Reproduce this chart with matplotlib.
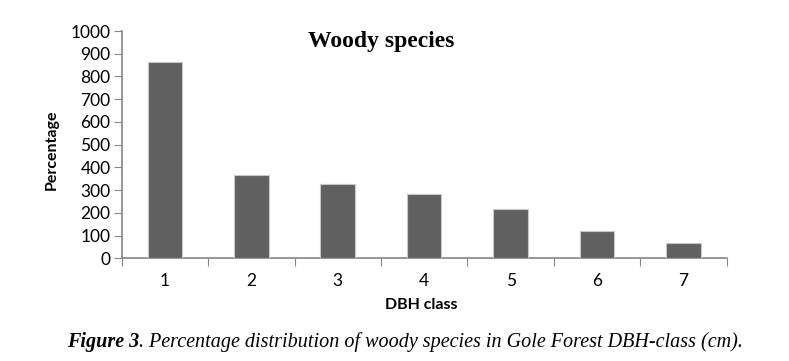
import matplotlib
matplotlib.use("Agg")
from matplotlib import pyplot as plt

dbh_class = ['1', '2', '3', '4', '5', '6', '7']
percentage = [862, 366, 326, 282, 218, 119, 66]
y_ticks = [0, 100, 200, 300, 400, 500, 600, 700, 800, 900, 1000]

fig = plt.figure(figsize=(7.89, 3.61), dpi=100)
ax = fig.add_axes([121.7 / 789, 1 - 258.3 / 361, (726.7 - 121.7) / 789, (258.3 - 31) / 361])

x = range(len(dbh_class))
ax.bar(x, percentage, width=0.4, color='#606060', edgecolor='#c8c8c8', linewidth=0.8, zorder=3)

ax.set_xlim(-0.5, len(dbh_class) - 0.5)
ax.set_ylim(0, 1000)
ax.set_yticks(y_ticks)
ax.set_xticks([i - 0.5 for i in range(len(dbh_class) + 1)])
ax.set_xticklabels([])
ax.tick_params(axis='x', length=6, color='#868686', direction='out')
ax.tick_params(axis='y', length=6, color='#868686', direction='out', labelsize=12.5, pad=2)
for lbl in ax.get_yticklabels():
    lbl.set_family('Lato')
for i, name in enumerate(dbh_class):
    ax.text(i, -102, name, ha='center', va='center', fontsize=12.5, family='Lato')

for side in ['top', 'right']:
    ax.spines[side].set_visible(False)
for side in ['left', 'bottom']:
    ax.spines[side].set_color('#868686')
    ax.spines[side].set_linewidth(1.2)

fig.text(381 / 789, 1 - 42 / 361, 'Woody species', ha='center', va='center',
         fontsize=17, fontweight='bold', family='Liberation Serif')
fig.text(52 / 789, 1 - 150 / 361, 'Percentage', rotation=90, ha='center', va='center',
         fontsize=11.5, fontweight='bold', family='Lato')
fig.text(421 / 789, 1 - 305 / 361, 'DBH class', ha='center', va='center',
         fontsize=11.5, fontweight='bold', family='Lato')

# caption: bold-italic "Figure 3" followed by italic text
renderer = fig.canvas.get_renderer()
cap_y = 1 - 342 / 361
t1 = fig.text(0, cap_y, 'Figure 3', ha='left', va='center', fontsize=14.5,
              style='italic', fontweight='bold', family='Liberation Serif')
t2 = fig.text(0, cap_y, '. Percentage distribution of woody species in Gole Forest DBH-class (cm).',
              ha='left', va='center', fontsize=14.5, style='italic', family='Liberation Serif')
w1 = t1.get_window_extent(renderer).width
w2 = t2.get_window_extent(renderer).width
left = 405 - (w1 + w2) / 2
t1.set_x(left / 789)
t2.set_x((left + w1) / 789)

fig.savefig('out.png', dpi=100)
